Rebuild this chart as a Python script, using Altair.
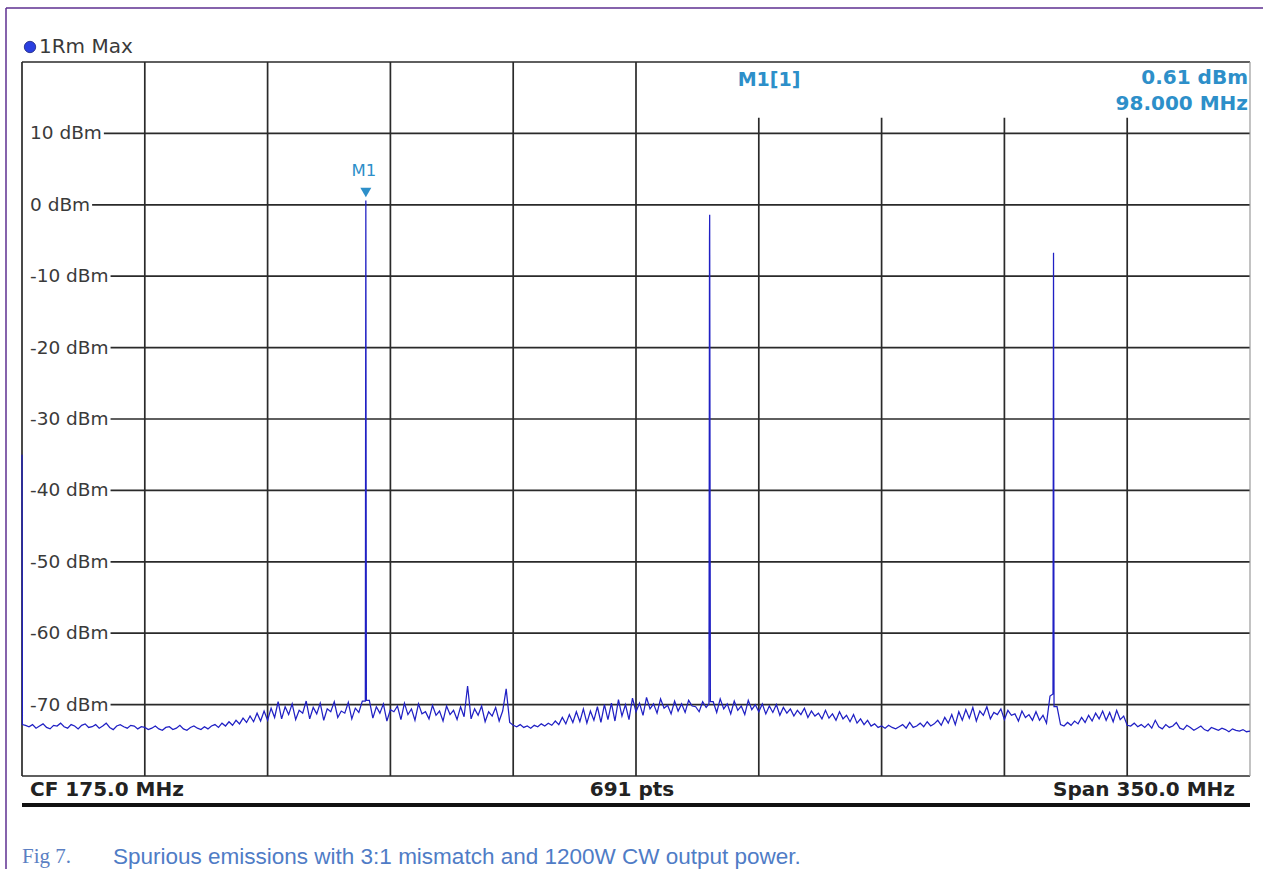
import altair as alt
import pandas as pd

# ---------------- data ----------------
# trace levels (dBm) on a 1 MHz grid, 0 .. 350 MHz
trace_levels = [
    -35.0, -72.9, -73.1, -72.8, -73.3, -73.0, -72.7, -73.2, -73.4, -72.9,
    -73.0, -72.6, -73.1, -73.3, -72.8, -73.0, -73.4, -72.9, -72.7, -73.2,
    -73.1, -72.8, -73.3, -73.0, -72.6, -73.2, -73.5, -73.0, -72.8, -73.1,
    -73.3, -72.9, -73.0, -73.4, -73.1, -73.2, -73.5, -73.3, -73.0, -73.4,
    -73.6, -73.2, -73.1, -73.5, -73.3, -72.9, -73.4, -73.6, -73.2, -73.0,
    -73.3, -73.5, -73.1, -73.4, -73.0, -72.8, -73.2, -72.6, -73.0, -72.4,
    -72.9, -72.2, -72.7, -71.9, -72.5, -71.6, -72.4, -71.2, -72.3, -70.9,
    -72.2, -70.5, -71.8, -69.6, -72.0, -70.3, -71.4, -69.9, -72.1, -70.8,
    -71.2, -69.5, -72.0, -70.4, -71.3, -69.8, -72.2, -70.6, -71.0, -69.6,
    -71.8, -70.9, -71.2, -69.7, -72.0, -70.5, -71.1, -69.5, 0.61, -69.4,
    -71.9, -70.3, -71.2, -69.9, -72.3, -70.7, -71.0, -70.2, -72.1, -69.8,
    -71.4, -70.6, -72.2, -69.9, -71.3, -71.0, -72.0, -70.1, -71.5, -70.9,
    -72.3, -70.2, -71.4, -70.8, -72.1, -70.3, -71.7, -67.4, -72.0, -70.6,
    -71.5, -70.2, -72.4, -71.0, -71.6, -70.4, -72.3, -70.9, -67.8, -72.5,
    -72.9, -73.1, -72.8, -73.2, -73.0, -73.3, -72.9, -73.1, -72.7, -73.0,
    -72.6, -72.9, -72.3, -72.8, -71.8, -72.7, -71.4, -72.5, -71.0, -72.4,
    -70.6, -72.6, -70.9, -72.2, -70.3, -72.5, -70.0, -72.1, -69.8, -72.3,
    -69.3, -71.6, -70.0, -72.1, -69.1, -71.0, -69.8, -71.5, -69.0, -70.6,
    -69.9, -71.2, -69.2, -70.5, -70.1, -71.3, -69.5, -70.9, -69.9, -71.1,
    -69.4, -70.2, -70.3, -71.0, -69.6, -70.4, -1.4, -69.6, -71.1, -69.2,
    -70.6, -69.9, -71.3, -69.5, -70.8, -70.2, -71.4, -69.4, -70.7, -70.0,
    -71.0, -69.9, -71.3, -70.2, -71.1, -70.0, -71.5, -70.4, -71.2, -70.6,
    -71.6, -70.8, -71.4, -70.5, -71.8, -70.9, -71.6, -71.2, -72.0, -70.8,
    -71.9, -71.3, -72.2, -71.0, -72.0, -71.5, -72.4, -71.4, -72.6, -72.0,
    -72.8, -72.2, -73.0, -72.7, -73.2, -73.0, -73.3, -72.9, -73.2, -73.4,
    -73.1, -72.8, -73.3, -72.5, -73.2, -73.0, -72.6, -73.1, -72.4, -73.0,
    -72.7, -72.2, -72.9, -71.8, -72.6, -71.4, -72.8, -71.0, -72.2, -70.7,
    -71.9, -70.4, -72.3, -70.9, -71.5, -70.3, -72.0, -71.1, -71.4, -70.6,
    -72.1, -70.8, -71.5, -71.3, -72.3, -70.9, -71.8, -71.4, -72.2, -71.0,
    -72.2, -71.5, -72.6, -68.8, -6.7, -70.3, -72.8, -73.0, -72.5, -72.9,
    -72.3, -72.7, -71.8, -72.5, -71.5, -72.3, -71.2, -72.0, -70.9, -72.2,
    -71.1, -72.4, -70.8, -72.1, -71.6, -72.9, -73.0, -72.6, -73.1, -72.8,
    -73.2, -72.7, -73.3, -72.2, -73.1, -73.4, -72.8, -73.2, -73.0, -72.5,
    -73.3, -73.5, -72.9, -73.2, -73.6, -73.3, -73.0, -73.5, -73.7, -73.2,
    -73.4, -73.6, -73.3, -73.5, -73.8, -73.4, -73.6, -73.7, -73.5, -73.8,
    -73.7,
]
trace_freqs = list(range(0, 351))

# extra points hugging the LO feed-through and the three carrier lines (MHz, dBm)
peak_side_freqs = [0.12, 97.85, 98.15, 195.8, 195.95, 196.2, 293.85, 294.15]
peak_side_levels = [-72.8, -69.5, -69.4, -69.9, -4.9, -69.6, -68.5, -70.3]

y_label_levels = [10, 0, -10, -20, -30, -40, -50, -60, -70]
y_label_texts = ["10 dBm", "0 dBm", "-10 dBm", "-20 dBm", "-30 dBm",
                 "-40 dBm", "-50 dBm", "-60 dBm", "-70 dBm"]
v_grid_freqs = [0, 35, 70, 105, 140, 175, 210, 245, 280, 315]
v_grid_tops = [20, 20, 20, 20, 20, 20, 12.2, 12.2, 12.2, 12.2]

marker_freq = 98.0
marker_level = 0.61
marker_texts = ["M1[1]", "0.61 dBm", "98.000 MHz"]
footer_texts = ["CF 175.0 MHz", "691 pts", "Span 350.0 MHz"]
caption_texts = ["Fig 7.", "Spurious emissions with 3:1 mismatch and 1200W CW output power."]

# ---------------- geometry ----------------
W, H = 1228, 714
PX_PER_MHZ = W / 350.0
FONT = "DejaVu Sans"
LABEL_SIZE = 18.5
EM = {"0": .636, "1": .636, "2": .636, "3": .636, "4": .636, "5": .636,
      "6": .636, "7": .636, "8": .636, "9": .636, "-": .361, " ": .318,
      "d": .635, "B": .686, "m": .974}


def label_end_mhz(t):
    px = 8 + LABEL_SIZE * sum(EM.get(c, .6) for c in t) + 2
    return px / PX_PER_MHZ


trace = pd.DataFrame({"f": trace_freqs + peak_side_freqs,
                      "p": trace_levels + peak_side_levels}).sort_values("f")

hgrid = pd.DataFrame({
    "level": [20] + y_label_levels + [-80],
    "x0": [0.0] + [label_end_mhz(t) for t in y_label_texts] + [0.0],
})
vgrid = pd.DataFrame({"f": v_grid_freqs, "top": v_grid_tops})
ylab = pd.DataFrame({"level": y_label_levels, "text": y_label_texts})
one = pd.DataFrame({"k": [0]})

xs = alt.Scale(domain=[0, 350], nice=False, zero=False)
ys = alt.Scale(domain=[-80, 20], nice=False, zero=False)
GRID = "#2a2a2a"

h_rules = alt.Chart(hgrid).mark_rule(color=GRID, strokeWidth=1.7).encode(
    x=alt.X("x0:Q", scale=xs, axis=None),
    x2=alt.datum(350),
    y=alt.Y("level:Q", scale=ys, axis=None),
)
v_rules = alt.Chart(vgrid).mark_rule(color=GRID, strokeWidth=1.7).encode(
    x=alt.X("f:Q", scale=xs, axis=None),
    y=alt.Y("top:Q", scale=ys, axis=None),
    y2=alt.datum(-80),
)
right_border = alt.Chart(one).mark_rule(color="#9a9a9a", strokeWidth=1.2).encode(
    x=alt.value(W), y=alt.value(0), y2=alt.value(H)
)

line = alt.Chart(trace).mark_line(color="#2020c4", strokeWidth=1.25).encode(
    x=alt.X("f:Q", scale=xs, axis=None),
    y=alt.Y("p:Q", scale=ys, axis=None),
)

ytext = alt.Chart(ylab).mark_text(
    align="left", baseline="middle", font=FONT, fontSize=LABEL_SIZE, color="#3a3a3a"
).encode(x=alt.value(8), y=alt.Y("level:Q", scale=ys, axis=None), text="text:N")

mk = pd.DataFrame({"f": [marker_freq], "p": [marker_level], "t": ["M1"]})
MK_COLOR = "#2d8fc9"
tri = alt.Chart(mk).mark_point(
    shape="triangle-down", filled=True, color=MK_COLOR, size=120, opacity=1, yOffset=-8
).encode(x=alt.X("f:Q", scale=xs, axis=None), y=alt.Y("p:Q", scale=ys, axis=None))
mtxt = alt.Chart(mk).mark_text(
    font=FONT, fontSize=16.5, color=MK_COLOR, baseline="middle", yOffset=-29, dx=-2
).encode(x=alt.X("f:Q", scale=xs, axis=None), y=alt.Y("p:Q", scale=ys, axis=None), text="t:N")


def txt(text, x, y, align, size, color, weight="normal", font=FONT):
    return alt.Chart(pd.DataFrame({"t": [text]})).mark_text(
        font=font, fontSize=size, fontWeight=weight, color=color, align=align, baseline="middle"
    ).encode(x=alt.value(x), y=alt.value(y), text="t:N")


info1 = txt(marker_texts[0], 747, 18, "center", 19, MK_COLOR, "bold")
info2 = txt(marker_texts[1], 1226, 16, "right", 20, MK_COLOR, "bold")
info3 = txt(marker_texts[2], 1226, 42, "right", 20, MK_COLOR, "bold")

dot = alt.Chart(one).mark_point(
    shape="circle", filled=True, color="#2a3fe0", size=130, opacity=1, stroke="#1a237e", strokeWidth=0.8
).encode(x=alt.value(8), y=alt.value(-15))
dot_txt = txt("1Rm Max", 17, -15, "left", 20, "#3a3a3a")

b1 = txt(footer_texts[0], 8, 728, "left", 20, "#222", "bold")
b2 = txt(footer_texts[1], 610, 728, "center", 20, "#222", "bold")
b3 = txt(footer_texts[2], 1213, 728, "right", 20, "#222", "bold")
thick = alt.Chart(one).mark_rule(color="#111", strokeWidth=4).encode(
    x=alt.value(0), x2=alt.value(W), y=alt.value(743))

frame_l = alt.Chart(one).mark_rule(color="#5e2f91", strokeWidth=1.5).encode(
    x=alt.value(-16), y=alt.value(-54), y2=alt.value(807))
frame_t = alt.Chart(one).mark_rule(color="#5e2f91", strokeWidth=1.5).encode(
    x=alt.value(-16), x2=alt.value(1241), y=alt.value(-54))

c1 = txt(caption_texts[0], 0, 795, "left", 21, "#5b7fc3", font="Liberation Serif")
c2 = txt(caption_texts[1], 91, 795, "left", 22.5, "#4f7cc6", font="Liberation Sans")

chart = alt.layer(
    h_rules, v_rules, right_border, line, ytext, tri, mtxt, info1, info2, info3,
    dot, dot_txt, b1, b2, b3, thick, frame_l, frame_t, c1, c2
).properties(
    width=W, height=H,
    autosize=alt.AutoSizeParams(type="none"),
    padding={"left": 22, "top": 62, "right": 13, "bottom": 93},
    background="white",
).configure_view(stroke=None)

chart.save("out.html", embed_options={"renderer": "svg", "actions": False})
